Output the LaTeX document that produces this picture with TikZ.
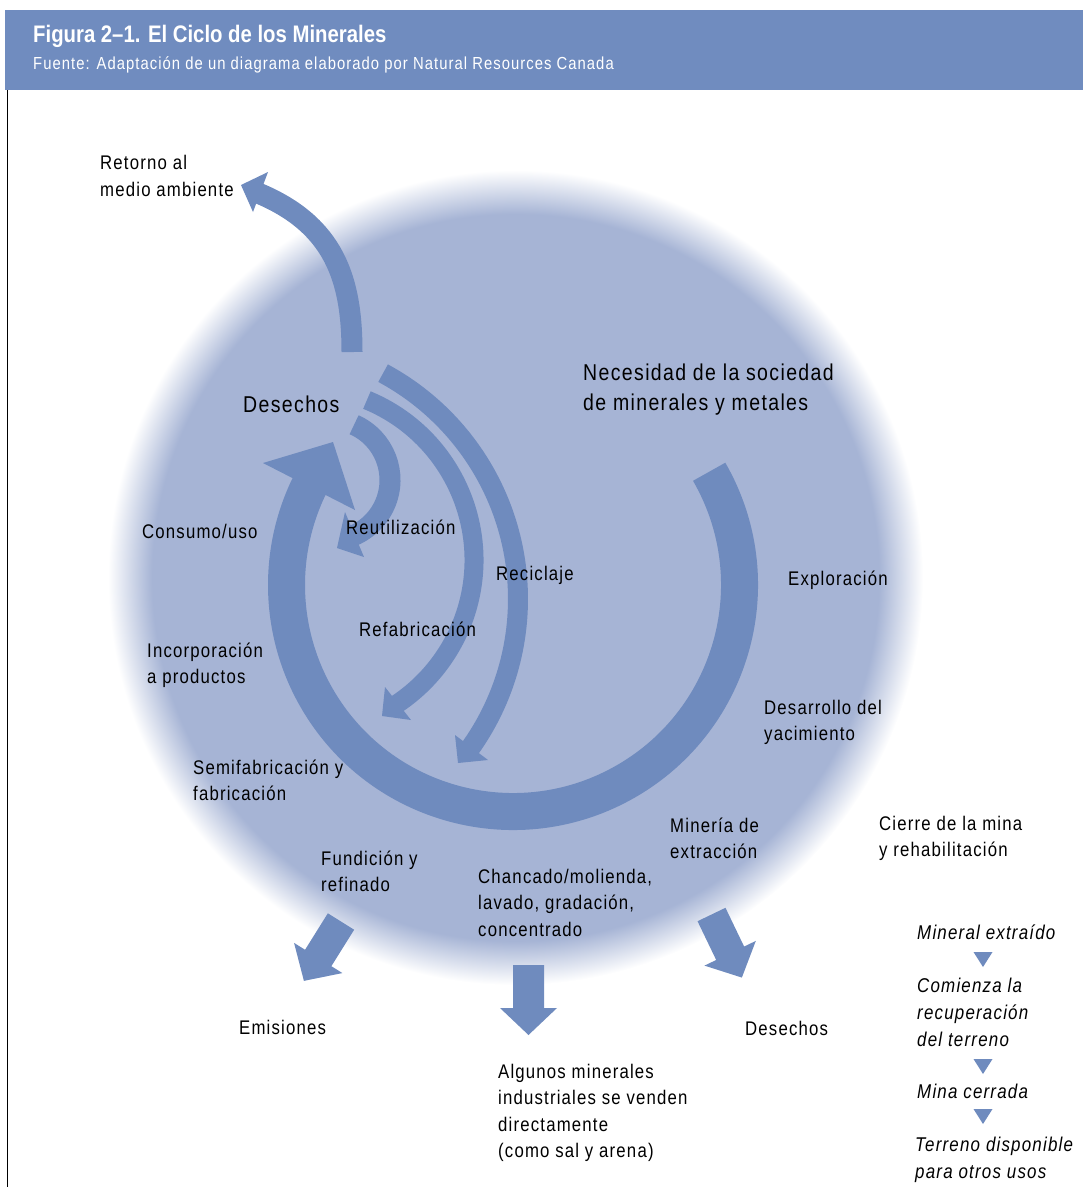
\documentclass[tikz,border=0pt]{standalone}
\usepackage{fontspec}
\setmainfont{Liberation Sans}[FakeStretch=0.85, LetterSpace=6]
\newfontfamily\headfont{Liberation Sans}[FakeStretch=0.85]
\definecolor{flowblue}{RGB}{111,139,190}
\definecolor{discblue}{RGB}{166,180,213}
\definecolor{headblue}{RGB}{112,140,191}
\pgfdeclareradialshading{discfade}{\pgfpointorigin}{color(0bp)=(discblue); color(22.3bp)=(discblue); color(25bp)=(white); color(50bp)=(white)}

\begin{document}
\begin{tikzpicture}[x=1bp, y=-1bp,
  % multi-line labels are anchored at the baseline of their last line
  lbl/.style={anchor=base west, inner sep=0pt, align=left, font=\fontsize{19.8}{26.5}\selectfont},
  biglbl/.style={lbl, font=\fontsize{23}{30}\selectfont},
  notelbl/.style={lbl, font=\fontsize{20}{27}\selectfont\itshape},
  band/.style={draw=flowblue, line width=#1},
  tip/.style={fill=flowblue},
  blockarrow/.style={fill=flowblue},
]
\useasboundingbox (0,0) rectangle (1083,1187);

% heading band
\fill[headblue] (5,10) rectangle (1083,90);
\draw[black, line width=1bp] (7,90) -- (7,1187);
\node[anchor=base west, inner sep=0pt, text=white, font=\headfont\bfseries\fontsize{24}{28}\selectfont] (title) at (33,42) {Figura 2–1. El Ciclo de los Minerales};
\node[anchor=base west, inner sep=0pt, text=white, font=\fontsize{17.5}{20}\selectfont] (source) at (33,69) {Fuente: Adaptación de un diagrama elaborado por Natural Resources Canada};

% soft-edged disc
\shade[shading=discfade] (515.5,577.5) circle[radius=407.5];

% main cycle
\draw[band=37bp] (513,585) ++(-30:226.5) arc[start angle=-30, end angle=206.5, radius=226.5];
\fill[tip] (263,463) -- (333,442) -- (355,510) -- cycle;

% reuse, remanufacture and recycling loops
\draw[band=21bp] (329.5,480) ++(-66:60.5) arc[start angle=-66, end angle=70, radius=60.5];
\fill[tip] (345,512) -- (337,548) -- (364,557) -- cycle;
\draw[band=19bp] (301,560) ++(-67.6:173) arc[start angle=-67.6, end angle=58, radius=173];
\fill[tip] (385,687) -- (382,716) -- (411,720) -- cycle;
\draw[band=20bp] (261.5,599) ++(-61.7:256.5) arc[start angle=-61.7, end angle=37, radius=256.5];
\fill[tip] (455,735) -- (458,763) -- (488,760) -- cycle;

% return to the environment
\draw[band=21bp] (352,352) .. controls (352,280) and (335,225) .. (258,193);
\fill[tip] (268,172) -- (241,185) -- (253,212) -- cycle;

% outflows
\foreach \px/\py/\ang in {341/921.5/-122, 528.5/965/-90, 711.5/914.5/-64.3}
  \fill[blockarrow, shift={(\px,\py)}, rotate=\ang]
    (0,-15.5) -- (43,-15.5) -- (43,-28.5) -- (70,0) -- (43,28.5) -- (43,15.5) -- (0,15.5) -- cycle;

% closure sequence markers
\foreach \ty in {952,1059,1109}
  \fill[flowblue] (973.5,\ty) -- (992.5,\ty) -- (983,\ty+15) -- cycle;

% labels
\node[lbl] (retorno) at (100,196) {Retorno al\\medio ambiente};
\node[biglbl] (desechosA) at (243,412) {Desechos};
\node[biglbl] (necesidad) at (583,410) {Necesidad de la sociedad\\de minerales y metales};
\node[lbl] (consumo) at (142,538) {Consumo/uso};
\node[lbl] (reutil) at (346,534) {Reutilización};
\node[lbl] (reciclaje) at (496,580) {Reciclaje};
\node[lbl] (exploracion) at (788,585) {Exploración};
\node[lbl] (refab) at (359,636) {Refabricación};
\node[lbl] (incorp) at (147,683.5) {Incorporación\\a productos};
\node[lbl] (desarrollo) at (764,740.5) {Desarrollo del\\yacimiento};
\node[lbl] (semifab) at (193,800.5) {Semifabricación y\\fabricación};
\node[lbl] (mineria) at (670,858.5) {Minería de\\extracción};
\node[lbl] (cierre) at (879,856.5) {Cierre de la mina\\y rehabilitación};
\node[lbl] (fundicion) at (321,891.5) {Fundición y\\refinado};
\node[lbl] (chancado) at (478,936) {Chancado/molienda,\\lavado, gradación,\\concentrado};
\node[lbl] (emisiones) at (239,1034) {Emisiones};
\node[lbl] (desechosB) at (745,1035) {Desechos};
\node[lbl] (algunos) at (498,1157.5) {Algunos minerales\\industriales se venden\\directamente\\(como sal y arena)};
\node[notelbl] (extraido) at (917,939) {Mineral extraído};
\node[notelbl] (comienza) at (917,1046) {Comienza la\\recuperación\\del terreno};
\node[notelbl] (cerrada) at (917,1098) {Mina cerrada};
\node[notelbl] (terreno) at (915,1178) {Terreno disponible\\para otros usos};
\end{tikzpicture}
\end{document}
